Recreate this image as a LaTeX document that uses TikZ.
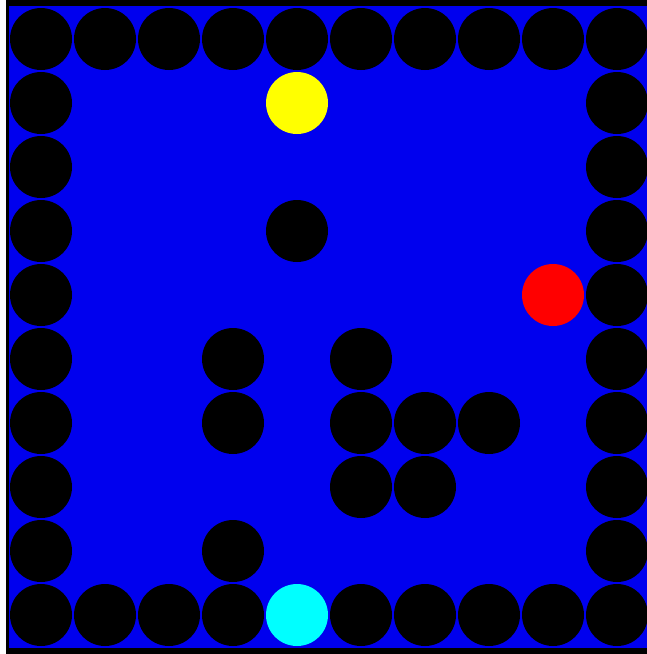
\documentclass[tikz,border=0pt]{standalone}
\definecolor{bgblue}{RGB}{0,0,238}
\definecolor{ayellow}{RGB}{255,255,0}
\definecolor{gred}{RGB}{255,0,0}
\definecolor{scyan}{RGB}{0,255,255}
\begin{document}
\begin{tikzpicture}[x=1pt,y=-1pt,
  cell/.style={circle,inner sep=0pt,minimum size=62pt,draw=none},
  wall/.style={cell,fill=black},
  agent/.style={cell,fill=ayellow},
  goal/.style={cell,fill=gred},
  start/.style={cell,fill=scyan}]
\useasboundingbox (0,0) rectangle (647,654);
\fill[white] (0,0) rectangle (647,654);
\fill[black] (6,0) rectangle (647,654);
\fill[bgblue] (9,6) rectangle (647,648);
% border walls
\foreach \i in {0,...,9} {
  \node[wall] (t\i) at (41+64*\i,39) {};
}
\foreach \i in {0,1,2,3,5,6,7,8,9} {
  \node[wall] (b\i) at (41+64*\i,615) {};
}
\foreach \j in {1,...,8} {
  \node[wall] (l\j) at (41,39+64*\j) {};
  \node[wall] (r\j) at (617,39+64*\j) {};
}
% interior walls
\foreach \c/\r in {4/3,3/5,5/5,3/6,5/6,6/6,7/6,5/7,6/7,3/8} {
  \node[wall] (w\c\r) at (41+64*\c,39+64*\r) {};
}
\node[agent] (yellow) at (297,103) {};
\node[goal] (red) at (553,295) {};
\node[start] (cyan) at (297,615) {};
\end{tikzpicture}
\end{document}
